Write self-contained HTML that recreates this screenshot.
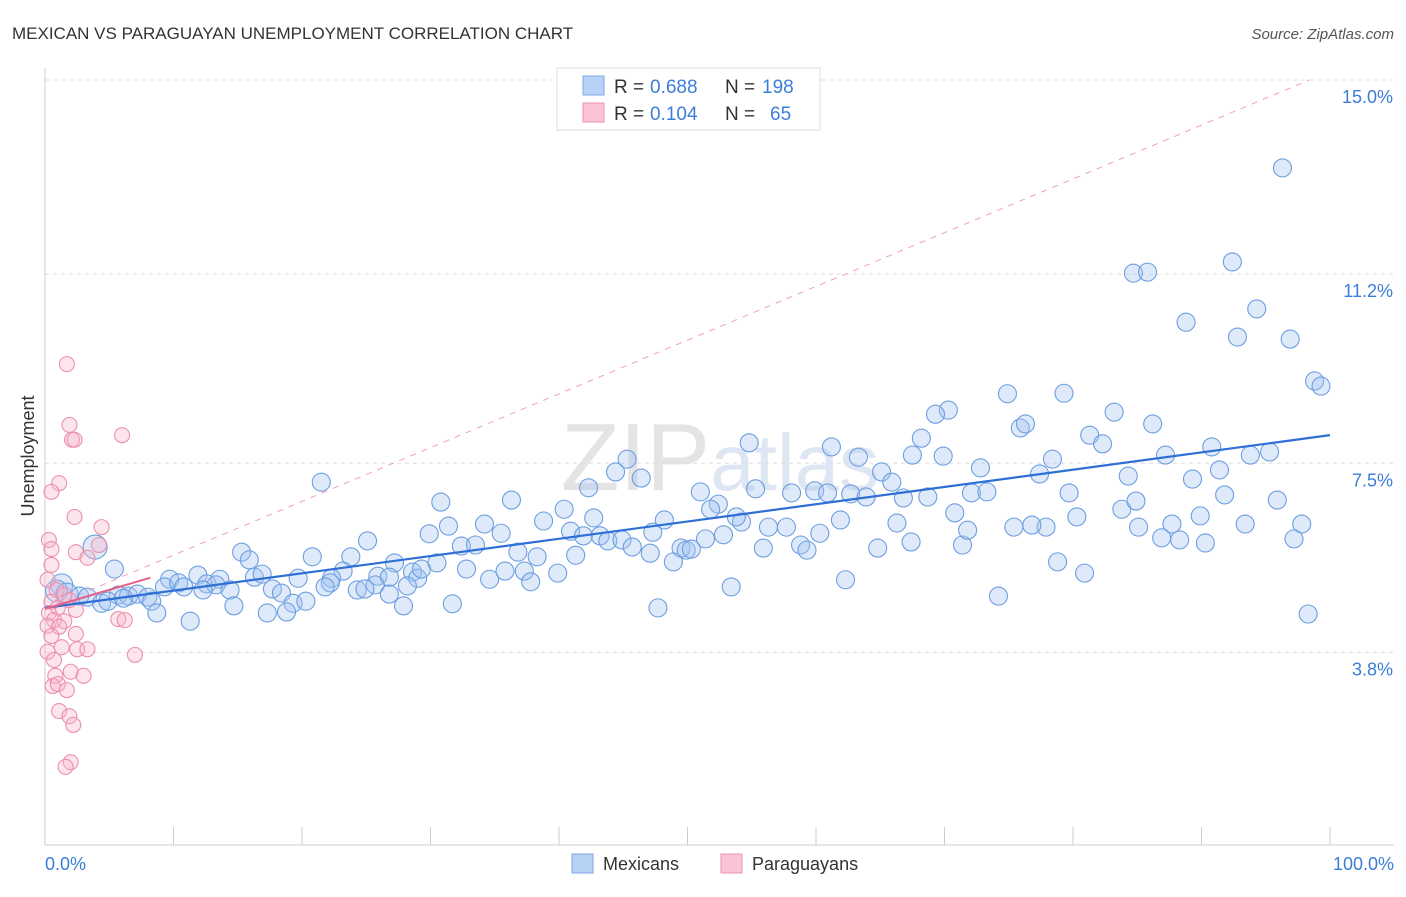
<!DOCTYPE html>
<html><head><meta charset="utf-8"><style>
body{margin:0;background:#fff;font-family:"Liberation Sans",sans-serif}
svg text{font-family:"Liberation Sans",sans-serif}
</style></head><body>
<svg width="1406" height="892" xmlns="http://www.w3.org/2000/svg">
<text x="12" y="39" font-size="17" fill="#333">MEXICAN VS PARAGUAYAN UNEMPLOYMENT CORRELATION CHART</text>
<text x="1394" y="39" font-size="15" fill="#555" font-style="italic" text-anchor="end">Source: ZipAtlas.com</text>
<text x="720" y="490" font-size="96" fill="#e4e4e4" text-anchor="middle" font-family="Liberation Serif">ZIP<tspan fill="#dde6f2" font-family="Liberation Sans" font-size="80">atlas</tspan></text>
<g id="grid"></g><g id="marks"></g>
<text x="34" y="456" font-size="18" fill="#333" text-anchor="middle" transform="rotate(-90 34 456)">Unemployment</text>
<text x="45" y="870" font-size="18" fill="#3b7dd8">0.0%</text>
<text x="1394" y="870" font-size="18" fill="#3b7dd8" text-anchor="end">100.0%</text>
<g>
<rect x="557" y="68" width="263" height="62" fill="#fff" stroke="#ddd"/>
<rect x="583" y="76" width="21" height="19" fill="#b8d2f5" stroke="#7fa9e6"/>
<rect x="583" y="103" width="21" height="19" fill="#f9c4d4" stroke="#ee93b0"/>
<text x="614" y="93" font-size="19" fill="#333">R =</text>
<text x="650" y="93" font-size="19" fill="#3b7dd8">0.688</text>
<text x="725" y="93" font-size="19" fill="#333">N =</text>
<text x="762" y="93" font-size="19" fill="#3b7dd8">198</text>
<text x="614" y="120" font-size="19" fill="#333">R =</text>
<text x="650" y="120" font-size="19" fill="#3b7dd8">0.104</text>
<text x="725" y="120" font-size="19" fill="#333">N =</text>
<text x="770" y="120" font-size="19" fill="#3b7dd8">65</text>
</g>
<g>
<rect x="572" y="854" width="21" height="19" fill="#b8d2f5" stroke="#7fa9e6"/>
<text x="603" y="870" font-size="18" fill="#333">Mexicans</text>
<rect x="721" y="854" width="21" height="19" fill="#f9c4d4" stroke="#ee93b0"/>
<text x="752" y="870" font-size="18" fill="#333">Paraguayans</text>
</g>
</svg>
<script>
const yTicks=[15.0,11.2,7.5,3.8];
const yTickLabels=["15.0%","11.2%","7.5%","3.8%"];
const xTicks=[0,10,20,30,40,50,60,70,80,90,100];
const blueX=[96.3,92.4,84.7,85.8,88.8,94.3,92.8,96.9,98.8,99.3,74.9,79.3,70.3,69.3,83.2,75.9,76.3,86.2,68.2,81.3,82.3,90.8,54.8,61.2,87.2,93.8,95.3,63.3,67.5,69.9,78.4,45.3,72.8,91.4,44.4,65.1,46.4,65.9,84.3,89.3,77.4,21.5,42.3,51.0,55.3,58.1,59.9,60.9,62.7,63.9,66.8,68.7,72.1,73.3,79.7,91.8,95.9,30.8,36.3,40.4,52.4,51.8,83.8,84.9,70.8,80.3,89.9,97.8,93.4,87.7,85.1,77.9,76.8,75.4,66.3,61.9,57.7,56.3,54.2,53.8,48.2,42.7,40.9,38.8,34.2,31.4,35.5,29.9,25.1,32.4,33.5,41.9,43.2,43.8,44.9,47.3,45.7,47.1,49.5,49.9,50.3,51.4,52.8,55.9,58.8,59.3,60.3,64.8,67.4,71.4,71.8,86.9,88.3,90.3,97.2,15.3,15.9,20.8,23.8,36.8,38.3,41.3,48.9,78.8,80.9,27.2,23.2,28.6,32.8,34.6,35.8,37.3,39.9,37.8,62.3,5.4,3.9,9.7,11.9,12.6,13.6,16.3,16.9,19.7,22.3,25.9,26.8,29.0,29.3,30.5,25.7,22.2,21.8,28.2,24.3,24.9,26.8,9.3,10.4,10.8,13.3,14.4,17.7,18.4,12.3,1.3,0.9,1.7,2.7,3.3,5.7,6.5,7.2,8.0,4.4,4.9,6.1,8.3,8.7,14.7,19.3,20.3,27.9,31.7,47.7,53.4,74.2,98.3,11.3,17.3,18.8];
const blueY=[13.28,11.44,11.22,11.24,10.26,10.52,9.97,9.93,9.11,9.01,8.86,8.87,8.54,8.46,8.50,8.19,8.27,8.27,7.99,8.05,7.88,7.82,7.90,7.82,7.66,7.66,7.72,7.62,7.66,7.64,7.58,7.58,7.41,7.37,7.33,7.33,7.21,7.13,7.25,7.19,7.29,7.13,7.02,6.94,7.00,6.92,6.96,6.92,6.90,6.84,6.82,6.84,6.92,6.94,6.92,6.88,6.78,6.74,6.78,6.60,6.70,6.60,6.60,6.76,6.53,6.45,6.47,6.31,6.31,6.31,6.25,6.25,6.29,6.25,6.33,6.39,6.25,6.25,6.35,6.45,6.39,6.43,6.17,6.37,6.31,6.27,6.13,6.12,5.98,5.88,5.90,6.08,6.08,5.98,6.00,6.15,5.86,5.74,5.84,5.80,5.82,6.02,6.10,5.84,5.90,5.80,6.13,5.84,5.96,5.90,6.19,6.04,6.00,5.94,6.02,5.76,5.61,5.67,5.67,5.76,5.67,5.70,5.57,5.57,5.35,5.55,5.39,5.37,5.43,5.23,5.39,5.39,5.35,5.18,5.22,5.43,5.86,5.23,5.31,5.14,5.23,5.27,5.33,5.25,5.25,5.29,5.27,5.25,5.43,5.55,5.12,5.16,5.08,5.10,5.02,5.04,4.94,5.08,5.16,5.08,5.12,5.02,5.04,4.96,5.02,5.12,5.00,4.94,4.90,4.88,4.92,4.90,4.94,4.88,4.76,4.80,4.86,4.80,4.57,4.71,4.76,4.80,4.71,4.75,4.67,5.08,4.90,4.55,4.41,4.57,4.59];
const pinkX=[1.7,1.9,2.1,2.3,6.0,1.1,0.5,2.3,4.4,0.3,0.5,2.4,4.2,3.3,0.5,0.2,0.9,1.5,1.9,0.5,1.0,2.4,0.3,0.7,1.5,5.7,6.2,0.2,1.1,2.4,0.5,1.3,2.5,3.3,7.0,0.2,0.7,2.0,3.0,0.8,0.6,1.0,1.7,1.1,1.9,2.2,2.0,1.6];
const pinkY=[9.44,8.25,7.96,7.96,8.05,7.11,6.94,6.45,6.25,6.00,5.82,5.76,5.90,5.65,5.51,5.22,5.02,4.92,4.82,4.79,4.67,4.63,4.57,4.43,4.41,4.45,4.43,4.32,4.30,4.16,4.12,3.90,3.86,3.86,3.75,3.81,3.65,3.42,3.34,3.34,3.14,3.18,3.06,2.65,2.55,2.38,1.65,1.56];
const blueTrend=[[0,4.67],[100,8.05]];
const pinkTrend=[[0,4.65],[8.2,5.26]];
const dashTrend=[[0,4.65],[98.4,15]];
const X=v=>45+v*12.85, Y=v=>80+(15-v)*51.1;
const NS='http://www.w3.org/2000/svg';
function mk(t,a,p){const e=document.createElementNS(NS,t);for(const k in a)e.setAttribute(k,a[k]);p.appendChild(e);return e;}
const g=document.getElementById('grid'), m=document.getElementById('marks');
yTicks.forEach((v,i)=>{
 const l=mk('line',{x1:45,x2:1394,y1:Y(v),y2:Y(v),stroke:'#ddd','stroke-dasharray':'4 4'},g);
 
 
 const t=mk('text',{x:1393,y:Y(v)+23,'font-size':18,fill:'#3b7dd8','text-anchor':'end'},g);
 t.textContent=yTickLabels[i];
 
 
});
const ax=mk('line',{x1:45,x2:45,y1:68,y2:845,stroke:'#ccc'},g);


const bx=mk('line',{x1:45,x2:1394,y1:845,y2:845,stroke:'#ccc'},g);


xTicks.forEach(v=>{const t=mk('line',{x1:X(v),x2:X(v),y1:827,y2:845,stroke:'#ccc'},g);
 
 });
function line(d,st,name){const l=mk('line',Object.assign({x1:X(d[0][0]),y1:Y(d[0][1]),x2:X(d[1][0]),y2:Y(d[1][1])},st),m);
 
 }
line(dashTrend,{stroke:'#f0a0b8','stroke-width':1,'stroke-dasharray':'6 6'},'paraguayan-trend-extension');
blueX.forEach((x,i)=>{
 const big=x<6&&i>=136&&i<=137?12:(x<2?11:9);
 const c=mk('circle',{cx:X(x),cy:Y(blueY[i]),r:big,fill:'rgba(160,195,240,0.35)',stroke:'#6d9ee0','stroke-width':1.1},m);
 
 
});
pinkX.forEach((x,i)=>{
 const c=mk('circle',{cx:X(x),cy:Y(pinkY[i]),r:7.5,fill:'rgba(248,180,200,0.35)',stroke:'#ec8fae','stroke-width':1.1},m);
 
 
});
line(blueTrend,{stroke:'#2e6fd6','stroke-width':2.2},'mexican-trend-line');
line(pinkTrend,{stroke:'#e46088','stroke-width':2},'paraguayan-trend-line');
</script>
</body></html>
